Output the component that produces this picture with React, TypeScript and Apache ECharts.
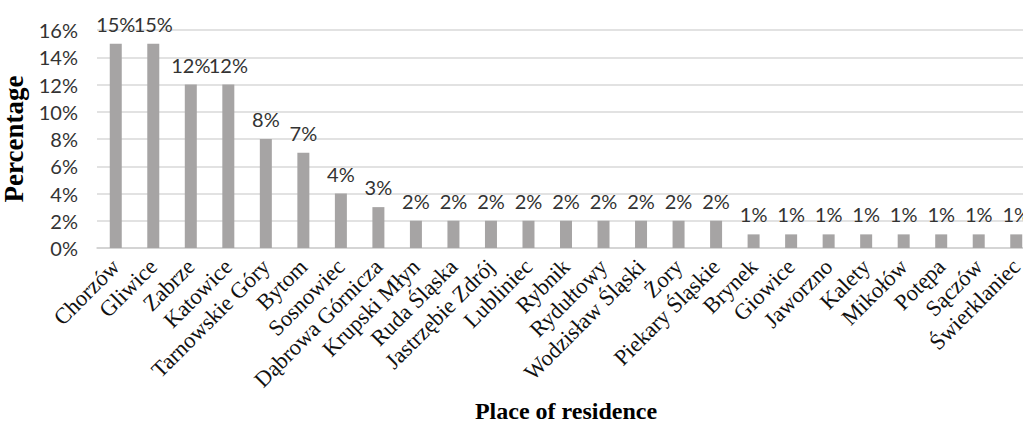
import React, { useEffect, useRef } from "react";
import * as echarts from "echarts";

// Places of residence and their share of respondents (%)
const places = [
  "Chorzów", "Gliwice", "Zabrze", "Katowice", "Tarnowskie Góry", "Bytom",
  "Sosnowiec", "Dąbrowa Górnicza", "Krupski Młyn", "Ruda Śląska",
  "Jastrzębie Zdrój", "Lubliniec", "Rybnik", "Rydułtowy", "Wodzisław Śląski",
  "Żory", "Piekary Śląskie", "Brynek", "Giowice", "Jaworzno", "Kalety",
  "Mikołów", "Potępa", "Sączów", "Świerklaniec",
];
const shares = [15, 15, 12, 12, 8, 7, 4, 3, 2, 2, 2, 2, 2, 2, 2, 2, 2, 1, 1, 1, 1, 1, 1, 1, 1];

const SANS = "Lato, 'Open Sans', sans-serif";
const SERIF = "'Liberation Serif', 'DejaVu Serif', serif";

export default function App() {
  const ref = useRef<HTMLDivElement>(null);

  useEffect(() => {
    if (!ref.current) return;
    const chart = echarts.init(ref.current, null, { renderer: "svg" });
    chart.setOption({
      animation: false,
      backgroundColor: "#ffffff",
      grid: { left: 97, right: 0, top: 30, bottom: 177, outerBoundsMode: "none", containLabel: false },
      xAxis: {
        type: "category",
        data: places,
        name: "Place of residence",
        nameLocation: "middle",
        nameGap: 148,
        nameTextStyle: {
          fontFamily: SERIF,
          fontWeight: "bold",
          fontSize: 24,
          color: "#000",
        },
        axisLine: { lineStyle: { color: "#d0d0d0", width: 1.5 } },
        axisTick: { show: false },
        axisLabel: {
          interval: 0,
          rotate: 45,
          fontFamily: SERIF,
          fontSize: 22.5,
          color: "#111",
          margin: 15,
        },
      },
      yAxis: {
        type: "value",
        min: 0,
        max: 16,
        interval: 2,
        name: "Percentage",
        nameLocation: "middle",
        nameGap: 58,
        nameRotate: 90,
        nameTextStyle: {
          fontFamily: SERIF,
          fontWeight: "bold",
          fontSize: 27,
          color: "#000",
        },
        axisLine: { show: false },
        axisTick: { show: false },
        axisLabel: {
          formatter: "{value}%",
          fontFamily: SANS,
          fontSize: 20,
          color: "#333",
          margin: 19,
        },
        splitLine: { lineStyle: { color: "#d9d9d9", width: 1.5 } },
      },
      series: [
        {
          type: "bar",
          data: shares,
          barWidth: 12,
          itemStyle: { color: "#a6a4a4" },
          label: {
            show: true,
            position: "top",
            distance: 10,
            formatter: "{c}%",
            fontFamily: SANS,
            fontSize: 20,
            color: "#333",
          },
        },
      ],
    });
    return () => chart.dispose();
  }, []);

  return (
    <div
      style={{ position: "fixed", left: 0, top: 0, width: 1023, height: 425, overflow: "hidden", background: "#fff" }}
    >
      <div ref={ref} style={{ width: 1035, height: 425 }} />
    </div>
  );
}
